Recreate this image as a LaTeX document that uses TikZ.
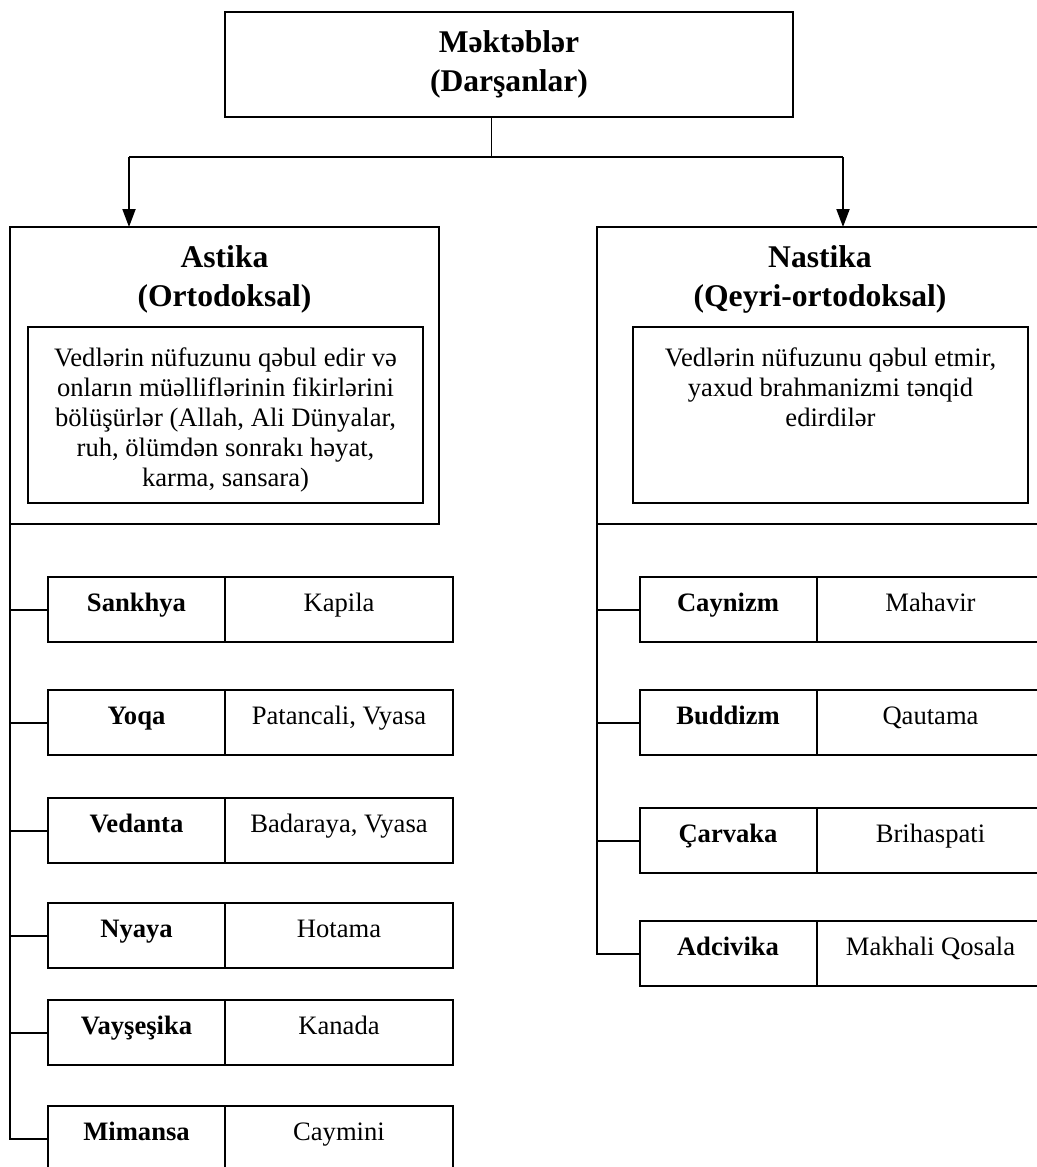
\documentclass[tikz,border=0pt]{standalone}
\usepackage{fontspec}
\setmainfont{Liberation Serif}
\usetikzlibrary{positioning}
\usetikzlibrary{arrows.meta}

\tikzset{
	basliq/.style={font=\bfseries\fontsize{15.8}{19.5}\selectfont, align=center, inner sep=0pt},
	qutu/.style={draw, line width=1pt, outer sep=0pt},
	metn/.style={font=\fontsize{13.3}{15}\selectfont, align=center, inner sep=0pt},
	xana/.style={qutu, font=\fontsize{13.3}{15}\selectfont, minimum height=32.5pt, text height=0.7em, text depth=0.5em, inner sep=0pt},
	adxana/.style={xana, font=\bfseries\fontsize{13.3}{15}\selectfont, minimum width=88.5pt},
	muellif/.style={xana, minimum width=114pt},
	xett/.style={line width=1pt},
	ox/.style={-{Triangle[width=6.5pt,length=9pt]}, line width=1pt},
}

\begin{document}
\begin{tikzpicture}[x=0.5pt,y=-0.5pt]
	\useasboundingbox (0,0) rectangle (1037,1167);
	\clip (0,0) rectangle (1037,1167);
	% esas qutu
	\node[qutu,basliq,minimum width=284pt,minimum height=52.5pt] (kok) at (509,64.5) {Məktəblər\\(Darşanlar)};
	\coordinate (catal) at (491,157);
	\coordinate (sol) at (129,157);
	\coordinate (sag) at (843,157);
	% Astika
	\node[qutu,minimum width=214.5pt,minimum height=148.5pt] (astika) at (224.5,375.5) {};
	\node[basliq,anchor=north] (astikaad) at (224.5,245) {Astika\\(Ortodoksal)};
	\node[qutu,minimum width=197.5pt,minimum height=88pt] (astikaqutu) at (225.5,415) {};
	\node[metn,anchor=north] (astikametn) at (225.5,347) {Vedlərin nüfuzunu qəbul edir və\\onların müəlliflərinin fikirlərini\\bölüşürlər (Allah, Ali Dünyalar,\\ruh, ölümdən sonrakı həyat,\\karma, sansara)};
	% Nastika
	\node[qutu,minimum width=223pt,minimum height=148.5pt] (nastika) at (820,375.5) {};
	\node[basliq,anchor=north] (nastikaad) at (820,245) {Nastika\\(Qeyri-ortodoksal)};
	\node[qutu,minimum width=197.5pt,minimum height=88pt] (nastikaqutu) at (830.5,415) {};
	\node[metn,anchor=north] (nastikametn) at (830.5,347) {Vedlərin nüfuzunu qəbul etmir,\\yaxud brahmanizmi tənqid\\edirdilər};
	% sol sutun
	\node[adxana] (sankhya) at (136.5,609.5) {Sankhya};
	\node[muellif,right=0pt of sankhya] (kapila) {Kapila};
	\node[adxana] (yoqa) at (136.5,722.5) {Yoqa};
	\node[muellif,right=0pt of yoqa] (patancali) {Patancali, Vyasa};
	\node[adxana] (vedanta) at (136.5,830.5) {Vedanta};
	\node[muellif,right=0pt of vedanta] (badaraya) {Badaraya, Vyasa};
	\node[adxana] (nyaya) at (136.5,935.5) {Nyaya};
	\node[muellif,right=0pt of nyaya] (hotama) {Hotama};
	\node[adxana] (vayseshika) at (136.5,1032.5) {Vayşeşika};
	\node[muellif,right=0pt of vayseshika] (kanada) {Kanada};
	\node[adxana] (mimansa) at (136.5,1138.5) {Mimansa};
	\node[muellif,right=0pt of mimansa] (caymini) {Caymini};
	% sag sutun
	\node[adxana] (caynizm) at (728,609.5) {Caynizm};
	\node[muellif,right=0pt of caynizm] (mahavir) {Mahavir};
	\node[adxana] (buddizm) at (728,722.5) {Buddizm};
	\node[muellif,right=0pt of buddizm] (qautama) {Qautama};
	\node[adxana] (carvaka) at (728,840.5) {Çarvaka};
	\node[muellif,right=0pt of carvaka] (brihaspati) {Brihaspati};
	\node[adxana] (adcivika) at (728,953.5) {Adcivika};
	\node[muellif,right=0pt of adcivika] (makhali) {Makhali Qosala};
	% oxlar
	\draw[line width=0.5pt] (kok.south -| catal) -- (catal);
	\draw[xett] (sol) -- (sag);
	\draw[ox] (sol) -- (sol |- astika.north);
	\draw[ox] (sag) -- (sag |- nastika.north);
	% budaqlar
	\draw[xett] (astika.south west) |- (mimansa.west);
	\draw[xett] (sankhya.west) -- (sankhya.west -| astika.west);
	\draw[xett] (yoqa.west) -- (yoqa.west -| astika.west);
	\draw[xett] (vedanta.west) -- (vedanta.west -| astika.west);
	\draw[xett] (nyaya.west) -- (nyaya.west -| astika.west);
	\draw[xett] (vayseshika.west) -- (vayseshika.west -| astika.west);
	\draw[xett] (nastika.south west) |- (adcivika.west);
	\draw[xett] (caynizm.west) -- (caynizm.west -| nastika.west);
	\draw[xett] (buddizm.west) -- (buddizm.west -| nastika.west);
	\draw[xett] (carvaka.west) -- (carvaka.west -| nastika.west);
\end{tikzpicture}
\end{document}
